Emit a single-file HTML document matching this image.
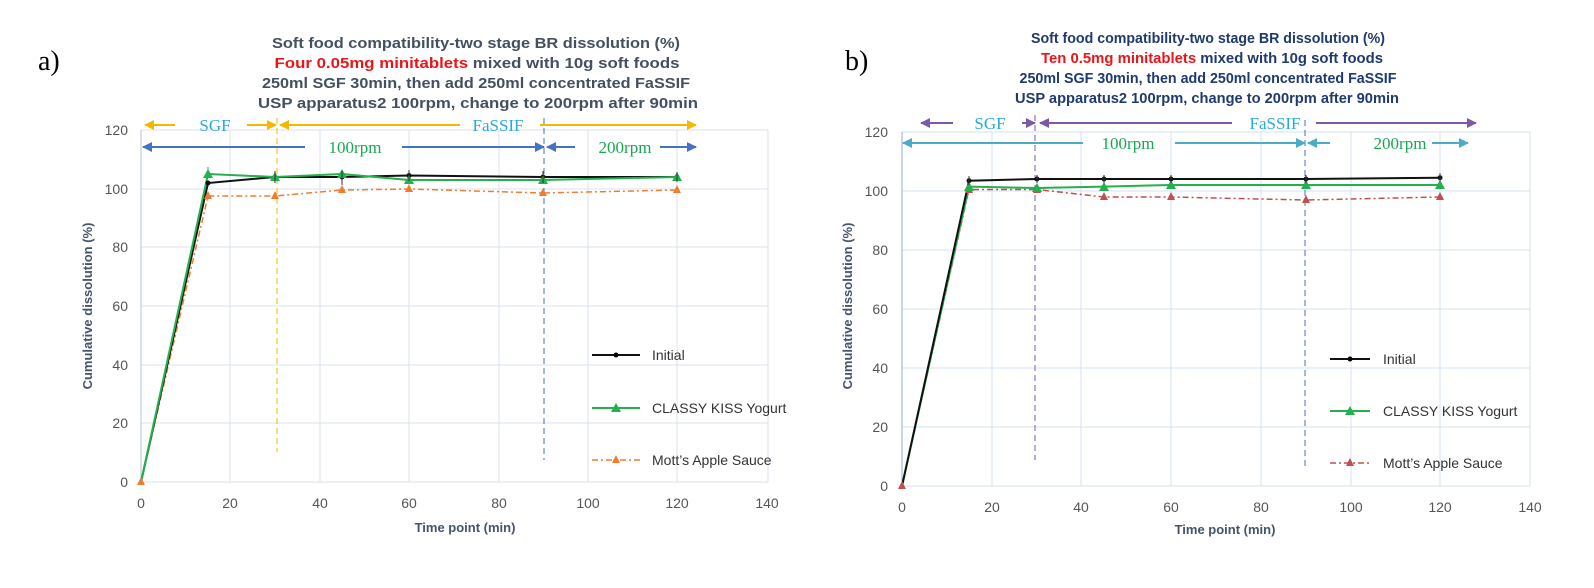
<!DOCTYPE html>
<html><head><meta charset="utf-8"><style>
html,body{margin:0;padding:0;background:#fff;width:1594px;height:588px;overflow:hidden}
svg{display:block;font-family:"Liberation Sans",sans-serif}
.t{font-size:15px;fill:#44505f;text-anchor:middle;font-weight:bold}
.tb{font-size:15px;fill:#1f3a6e;text-anchor:middle;font-weight:bold}
.tk{font-size:14px;fill:#555}
.ax{font-size:13px;fill:#44546a;font-weight:bold;text-anchor:middle}
.lg{font-size:14px;fill:#333}
.g{stroke:#dbe3ef;stroke-width:1}
.sf{font-family:"Liberation Serif",serif;font-size:17px}
</style></head><body>
<svg width="1594" height="588" viewBox="0 0 1594 588">
<defs>
<marker id="ay" markerUnits="userSpaceOnUse" markerWidth="10" markerHeight="10" refX="9" refY="5" orient="auto-start-reverse"><path d="M0,0L10,5L0,10z" fill="#f5b800"/></marker>
<marker id="ab" markerUnits="userSpaceOnUse" markerWidth="10" markerHeight="10" refX="9" refY="5" orient="auto-start-reverse"><path d="M0,0L10,5L0,10z" fill="#4472c4"/></marker>
<marker id="ap" markerUnits="userSpaceOnUse" markerWidth="10" markerHeight="10" refX="9" refY="5" orient="auto-start-reverse"><path d="M0,0L10,5L0,10z" fill="#7b5aa6"/></marker>
<marker id="at" markerUnits="userSpaceOnUse" markerWidth="10" markerHeight="10" refX="9" refY="5" orient="auto-start-reverse"><path d="M0,0L10,5L0,10z" fill="#4bacc6"/></marker>
</defs>

<text x="38" y="70" font-family="Liberation Serif,serif" font-size="28">a)</text>
<text class="t" x="476" y="48" textLength="408" lengthAdjust="spacingAndGlyphs">Soft food compatibility-two stage BR dissolution (%)</text>
<text class="t" x="477" y="68" textLength="405" lengthAdjust="spacingAndGlyphs"><tspan fill="#e8161b">Four 0.05mg minitablets</tspan> mixed with 10g soft foods</text>
<text class="t" x="476" y="88" textLength="428" lengthAdjust="spacingAndGlyphs">250ml SGF 30min, then add 250ml concentrated FaSSIF</text>
<text class="t" x="478" y="108" textLength="440" lengthAdjust="spacingAndGlyphs">USP apparatus2 100rpm, change to 200rpm after 90min</text>

<g class="g">
<line x1="141" y1="130" x2="768" y2="130"/><line x1="141" y1="189" x2="768" y2="189"/><line x1="141" y1="247" x2="768" y2="247"/><line x1="141" y1="306" x2="768" y2="306"/><line x1="141" y1="365" x2="768" y2="365"/><line x1="141" y1="423" x2="768" y2="423"/><line x1="141" y1="482" x2="768" y2="482"/>
<line x1="230" y1="130" x2="230" y2="482"/><line x1="320" y1="130" x2="320" y2="482"/><line x1="409" y1="130" x2="409" y2="482"/><line x1="499" y1="130" x2="499" y2="482"/><line x1="588" y1="130" x2="588" y2="482"/><line x1="677" y1="130" x2="677" y2="482"/><line x1="768" y1="130" x2="768" y2="482"/>
</g>
<line x1="141" y1="130" x2="141" y2="482" stroke="#b4c3d8"/>
<g class="tk" text-anchor="end">
<text x="128" y="487">0</text><text x="128" y="428">20</text><text x="128" y="370">40</text><text x="128" y="311">60</text><text x="128" y="252">80</text><text x="128" y="194">100</text><text x="128" y="135">120</text>
</g>
<g class="tk" text-anchor="middle">
<text x="141" y="508">0</text><text x="230" y="508">20</text><text x="320" y="508">40</text><text x="409" y="508">60</text><text x="499" y="508">80</text><text x="588" y="508">100</text><text x="677" y="508">120</text><text x="767" y="508">140</text>
</g>
<text class="ax" x="465" y="532">Time point (min)</text>
<text class="ax" transform="translate(92,306) rotate(-90)">Cumulative dissolution (%)</text>

<line x1="277" y1="118" x2="277" y2="452" stroke="#f5b800" stroke-dasharray="6,4"/>
<line x1="544" y1="118" x2="544" y2="460" stroke="#4472c4" stroke-dasharray="6,4"/>
<line x1="175" y1="125" x2="145" y2="125" stroke="#f5b800" stroke-width="2" marker-end="url(#ay)"/>
<line x1="247" y1="125" x2="276" y2="125" stroke="#f5b800" stroke-width="2" marker-end="url(#ay)"/>
<line x1="460" y1="125" x2="280" y2="125" stroke="#f5b800" stroke-width="2" marker-end="url(#ay)"/>
<line x1="540" y1="125" x2="696" y2="125" stroke="#f5b800" stroke-width="2" marker-end="url(#ay)"/>
<text x="215" y="131" class="sf" fill="#29a9e0" text-anchor="middle">SGF</text>
<text x="498" y="131" class="sf" fill="#29a9e0" text-anchor="middle">FaSSIF</text>
<line x1="305" y1="147" x2="143" y2="147" stroke="#4472c4" stroke-width="2" marker-end="url(#ab)"/>
<line x1="402" y1="147" x2="544" y2="147" stroke="#4472c4" stroke-width="2" marker-end="url(#ab)"/>
<line x1="575" y1="147" x2="547" y2="147" stroke="#4472c4" stroke-width="2" marker-end="url(#ab)"/>
<line x1="660" y1="147" x2="696" y2="147" stroke="#4472c4" stroke-width="2" marker-end="url(#ab)"/>
<text x="355" y="153" class="sf" fill="#1aa750" text-anchor="middle">100rpm</text>
<text x="625" y="153" class="sf" fill="#1aa750" text-anchor="middle">200rpm</text>

<polyline points="141,482 208,196 275,196 342,190 409,189 543,193 677,190" fill="none" stroke="#ed7d31" stroke-width="1.5" stroke-dasharray="6,3,2,3"/>
<polyline points="141,482 208,183 275,177 342,177 409,175.5 543,177 677,177" fill="none" stroke="#111" stroke-width="2"/>
<polyline points="141,482 208,174 275,177 342,174 409,180 543,180 677,177" fill="none" stroke="#22b14c" stroke-width="2"/>
<g fill="#ed7d31"><path d="M141,477l-4,8h8z"/><path d="M208,191l-4,8h8z"/><path d="M275,191l-4,8h8z"/><path d="M342,185l-4,8h8z"/><path d="M409,184l-4,8h8z"/><path d="M543,188l-4,8h8z"/><path d="M677,185l-4,8h8z"/></g>
<g fill="#111"><circle cx="208" cy="183" r="2.5"/><circle cx="275" cy="177" r="2.5"/><circle cx="342" cy="177" r="2.5"/><circle cx="409" cy="175.5" r="2.5"/><circle cx="543" cy="177" r="2.5"/><circle cx="677" cy="177" r="2.5"/></g>
<g fill="#22b14c"><path d="M208,169l-5,9h10z"/><path d="M275,172l-5,9h10z"/><path d="M342,169l-5,9h10z"/><path d="M409,175l-5,9h10z"/><path d="M543,175l-5,9h10z"/><path d="M677,172l-5,9h10z"/></g>
<g stroke="#333" stroke-width="1"><line x1="275" y1="171" x2="275" y2="183"/><line x1="342" y1="171" x2="342" y2="185"/><line x1="409" y1="170" x2="409" y2="181"/><line x1="543" y1="171" x2="543" y2="183"/><line x1="677" y1="172" x2="677" y2="182"/><line x1="208" y1="167" x2="208" y2="172" stroke="#22b14c"/></g>

<line x1="592" y1="355" x2="640" y2="355" stroke="#111" stroke-width="2"/><circle cx="616" cy="355" r="2.5"/>
<text class="lg" x="652" y="360">Initial</text>
<line x1="592" y1="408" x2="640" y2="408" stroke="#22b14c" stroke-width="2"/><path d="M616,403l-5,9h10z" fill="#22b14c"/>
<text class="lg" x="652" y="413">CLASSY KISS Yogurt</text>
<line x1="592" y1="460" x2="640" y2="460" stroke="#ed7d31" stroke-width="1.5" stroke-dasharray="6,3,2,3"/><path d="M616,455l-4,8h8z" fill="#ed7d31"/>
<text class="lg" x="652" y="465">Mott’s Apple Sauce</text>

<text x="845" y="70" font-family="Liberation Serif,serif" font-size="28">b)</text>
<text class="tb" x="1208" y="43" textLength="354" lengthAdjust="spacingAndGlyphs">Soft food compatibility-two stage BR dissolution (%)</text>
<text class="tb" x="1212" y="63" textLength="342" lengthAdjust="spacingAndGlyphs"><tspan fill="#e8161b">Ten 0.5mg minitablets</tspan> mixed with 10g soft foods</text>
<text class="tb" x="1208" y="83" textLength="377" lengthAdjust="spacingAndGlyphs">250ml SGF 30min, then add 250ml concentrated FaSSIF</text>
<text class="tb" x="1207" y="103" textLength="384" lengthAdjust="spacingAndGlyphs">USP apparatus2 100rpm, change to 200rpm after 90min</text>

<g class="g" style="stroke:#d5e1f0">
<line x1="902" y1="132" x2="1530" y2="132"/><line x1="902" y1="191" x2="1530" y2="191"/><line x1="902" y1="250" x2="1530" y2="250"/><line x1="902" y1="309" x2="1530" y2="309"/><line x1="902" y1="368" x2="1530" y2="368"/><line x1="902" y1="427" x2="1530" y2="427"/><line x1="902" y1="486" x2="1530" y2="486"/>
<line x1="992" y1="132" x2="992" y2="486"/><line x1="1081" y1="132" x2="1081" y2="486"/><line x1="1171" y1="132" x2="1171" y2="486"/><line x1="1261" y1="132" x2="1261" y2="486"/><line x1="1351" y1="132" x2="1351" y2="486"/><line x1="1440" y1="132" x2="1440" y2="486"/><line x1="1530" y1="132" x2="1530" y2="486"/>
</g>
<line x1="902" y1="132" x2="902" y2="486" stroke="#8fb0d8"/>
<g class="tk" text-anchor="end">
<text x="888" y="491">0</text><text x="888" y="432">20</text><text x="888" y="373">40</text><text x="888" y="314">60</text><text x="888" y="255">80</text><text x="888" y="196">100</text><text x="888" y="137">120</text>
</g>
<g class="tk" text-anchor="middle">
<text x="902" y="512">0</text><text x="992" y="512">20</text><text x="1081" y="512">40</text><text x="1171" y="512">60</text><text x="1261" y="512">80</text><text x="1351" y="512">100</text><text x="1440" y="512">120</text><text x="1530" y="512">140</text>
</g>
<text class="ax" x="1225" y="534">Time point (min)</text>
<text class="ax" transform="translate(852,306) rotate(-90)">Cumulative dissolution (%)</text>

<line x1="1035" y1="115" x2="1035" y2="460" stroke="#7b5aa6" stroke-dasharray="6,4"/>
<line x1="1305" y1="120" x2="1305" y2="468" stroke="#4472c4" stroke-dasharray="6,4"/>
<line x1="953" y1="123" x2="921" y2="123" stroke="#7b5aa6" stroke-width="2" marker-end="url(#ap)"/>
<line x1="1022" y1="123" x2="1035" y2="123" stroke="#7b5aa6" stroke-width="2" marker-end="url(#ap)"/>
<line x1="1232" y1="123" x2="1040" y2="123" stroke="#7b5aa6" stroke-width="2" marker-end="url(#ap)"/>
<line x1="1316" y1="123" x2="1476" y2="123" stroke="#7b5aa6" stroke-width="2" marker-end="url(#ap)"/>
<text x="990" y="129" class="sf" fill="#29a9e0" text-anchor="middle">SGF</text>
<text x="1275" y="129" class="sf" fill="#29a9e0" text-anchor="middle">FaSSIF</text>
<line x1="1083" y1="143" x2="903" y2="143" stroke="#4bacc6" stroke-width="2" marker-end="url(#at)"/>
<line x1="1175" y1="143" x2="1305" y2="143" stroke="#4bacc6" stroke-width="2" marker-end="url(#at)"/>
<line x1="1330" y1="143" x2="1308" y2="143" stroke="#4bacc6" stroke-width="2" marker-end="url(#at)"/>
<line x1="1432" y1="143" x2="1468" y2="143" stroke="#4bacc6" stroke-width="2" marker-end="url(#at)"/>
<text x="1128" y="149" class="sf" fill="#1aa750" text-anchor="middle">100rpm</text>
<text x="1400" y="149" class="sf" fill="#1aa750" text-anchor="middle">200rpm</text>

<polyline points="902,486 969,189.5 1037,189.5 1104,197 1171,197 1306,200 1440,197" fill="none" stroke="#c0504d" stroke-width="1.5" stroke-dasharray="6,3,2,3"/>
<polyline points="902,486 969,186.6 1037,188 1104,186.6 1171,185 1306,185 1440,185" fill="none" stroke="#22b14c" stroke-width="2"/>
<polyline points="902,486 969,180.7 1037,179 1104,179 1171,179 1306,179 1440,177.7" fill="none" stroke="#111" stroke-width="2"/>
<g fill="#c0504d"><path d="M902,481l-4,8h8z"/><path d="M969,185l-4,8h8z"/><path d="M1037,185l-4,8h8z"/><path d="M1104,192l-4,8h8z"/><path d="M1171,192l-4,8h8z"/><path d="M1306,195l-4,8h8z"/><path d="M1440,192l-4,8h8z"/></g>
<g fill="#22b14c"><path d="M969,182l-5,9h10z"/><path d="M1037,183l-5,9h10z"/><path d="M1104,182l-5,9h10z"/><path d="M1171,180l-5,9h10z"/><path d="M1306,180l-5,9h10z"/><path d="M1440,180l-5,9h10z"/></g>
<g fill="#111"><circle cx="969" cy="180.7" r="2.5"/><circle cx="1037" cy="179" r="2.5"/><circle cx="1104" cy="179" r="2.5"/><circle cx="1171" cy="179" r="2.5"/><circle cx="1306" cy="179" r="2.5"/><circle cx="1440" cy="177.7" r="2.5"/></g>
<g stroke="#333"><line x1="969" y1="176" x2="969" y2="185"/><line x1="1037" y1="175" x2="1037" y2="183"/><line x1="1104" y1="175" x2="1104" y2="183"/><line x1="1171" y1="175" x2="1171" y2="183"/><line x1="1306" y1="175" x2="1306" y2="183"/><line x1="1440" y1="173" x2="1440" y2="182"/></g>

<line x1="1330" y1="359" x2="1370" y2="359" stroke="#111" stroke-width="2"/><circle cx="1350" cy="359" r="2.5"/>
<text class="lg" x="1383" y="364">Initial</text>
<line x1="1330" y1="411" x2="1370" y2="411" stroke="#22b14c" stroke-width="2"/><path d="M1350,406l-5,9h10z" fill="#22b14c"/>
<text class="lg" x="1383" y="416">CLASSY KISS Yogurt</text>
<line x1="1330" y1="463" x2="1370" y2="463" stroke="#c0504d" stroke-width="1.5" stroke-dasharray="6,3,2,3"/><path d="M1350,458l-4,8h8z" fill="#c0504d"/>
<text class="lg" x="1383" y="468">Mott’s Apple Sauce</text>
</svg>
</body></html>
